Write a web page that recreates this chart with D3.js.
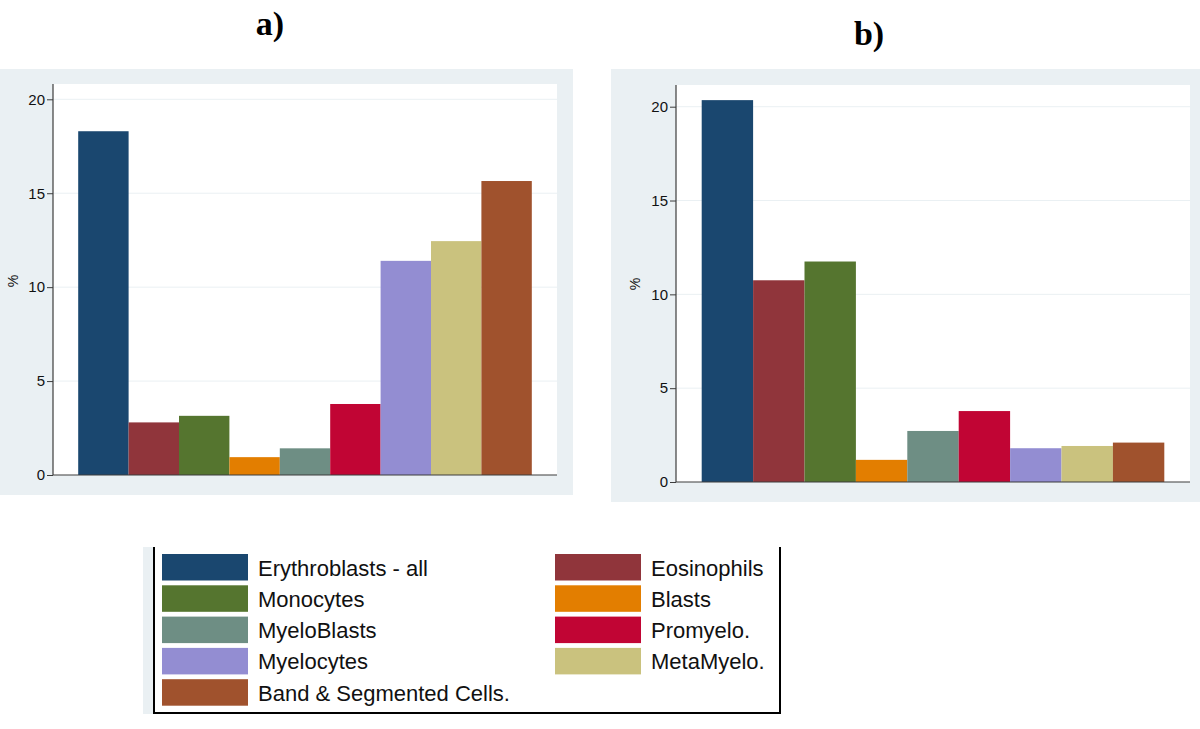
<!DOCTYPE html>
<html>
<head>
<meta charset="utf-8">
<script src="https://cdn.jsdelivr.net/npm/d3@7"></script>
<style>
  html, body { margin: 0; padding: 0; background: #ffffff; }
  svg { display: block; }
</style>
</head>
<body>
<svg id="chart" width="1200" height="729"></svg>
<script>
// ---- data ----
const categories = ["Erythroblasts - all", "Eosinophils", "Monocytes", "Blasts", "MyeloBlasts",
                    "Promyelo.", "Myelocytes", "MetaMyelo.", "Band & Segmented Cells."];
const valuesA = [18.3, 2.8, 3.15, 0.95, 1.42, 3.78, 11.4, 12.45, 15.65];
const valuesB = [20.35, 10.75, 11.75, 1.18, 2.72, 3.78, 1.8, 1.92, 2.1];
const colors = ["#1a476f", "#90353b", "#55752f", "#e37e00", "#6e8e84",
                "#c10534", "#938dd2", "#cac27e", "#a0522d"];
const yTicks = [0, 5, 10, 15, 20];
const panelTitles = ["a)", "b)"];
// legend order (two columns, row-major as in the picture)
const legendOrder = [0, 1, 2, 3, 4, 5, 6, 7, 8];

const svg = d3.select("#chart");

function drawPanel(cfg, values) {
  const g = svg.append("g");
  // outer background
  g.append("rect").attr("x", cfg.bg[0]).attr("y", cfg.bg[1])
    .attr("width", cfg.bg[2]).attr("height", cfg.bg[3]).attr("fill", "#eaf0f3");
  // plot region
  g.append("rect").attr("x", cfg.left).attr("y", cfg.top)
    .attr("width", cfg.right - cfg.left).attr("height", cfg.base - cfg.top).attr("fill", "#ffffff");

  const x = d3.scaleBand().domain(d3.range(categories.length))
    .range([cfg.left, cfg.right]).paddingInner(0).paddingOuter(0.5);
  const y = d3.scaleLinear().domain([0, 20]).range([cfg.base, cfg.y20]);

  // gridlines
  g.selectAll(".grid").data(yTicks.filter(t => t > 0)).enter().append("line")
    .attr("x1", cfg.left).attr("x2", cfg.right)
    .attr("y1", d => y(d)).attr("y2", d => y(d))
    .attr("stroke", "#eaf0f3").attr("stroke-width", 1);

  // bars
  g.selectAll(".bar").data(values).enter().append("rect")
    .attr("x", (d, i) => x(i)).attr("width", x.bandwidth())
    .attr("y", d => y(d)).attr("height", d => y(0) - y(d))
    .attr("fill", (d, i) => colors[i]);

  // y axis
  const axis = d3.axisLeft(y).tickValues(yTicks).tickSize(6).tickPadding(2);
  const ax = g.append("g").attr("transform", `translate(${cfg.left},0)`).call(axis);
  ax.select(".domain").remove();
  ax.append("line").attr("x1", 0).attr("x2", 0).attr("y1", cfg.top).attr("y2", cfg.base)
    .attr("stroke", "#3c3c3c").attr("stroke-width", 1.2);
  ax.selectAll(".tick line").attr("stroke", "#3c3c3c");
  ax.selectAll(".tick text").attr("fill", "#111")
    .style("font-family", "'Liberation Sans', Arial, sans-serif").style("font-size", "15px");

  // x baseline
  g.append("line").attr("x1", cfg.left).attr("x2", cfg.right)
    .attr("y1", cfg.base).attr("y2", cfg.base)
    .attr("stroke", "#3c3c3c").attr("stroke-width", 1.2);

  // y label
  g.append("text").attr("transform", `translate(${cfg.ylab[0]},${cfg.ylab[1]}) rotate(-90)`)
    .attr("text-anchor", "middle").attr("dominant-baseline", "central")
    .style("font-family", "'Liberation Sans', Arial, sans-serif").style("font-size", "14px")
    .attr("fill", "#111").text("%");

  // panel title
  svg.append("text").attr("x", cfg.title[0]).attr("y", cfg.title[1])
    .attr("text-anchor", "middle")
    .style("font-family", "'Liberation Serif', 'Times New Roman', serif")
    .style("font-weight", "bold").style("font-size", "34px")
    .attr("fill", "#000").text(cfg.titleText);
}

drawPanel({ bg: [0, 69, 573, 426], left: 53, right: 557, top: 84, base: 475, y20: 99.3,
            ylab: [13, 281], title: [270, 35], titleText: panelTitles[0] }, valuesA);
drawPanel({ bg: [611, 69, 589, 433], left: 676, right: 1190, top: 85, base: 482, y20: 106.7,
            ylab: [635, 284], title: [869, 45], titleText: panelTitles[1] }, valuesB);

// ---- legend ----
const lg = svg.append("g");
lg.append("rect").attr("x", 143).attr("y", 547).attr("width", 10).attr("height", 167).attr("fill", "#eaf0f3");
lg.append("rect").attr("x", 154).attr("y", 547).attr("width", 626).attr("height", 167).attr("fill", "#ffffff");
lg.append("path").attr("d", "M154,547 L154,713 L780,713 L780,547")
  .attr("fill", "none").attr("stroke", "#000").attr("stroke-width", 2);

const colX = [162, 555];
const rowY = d3.scaleLinear().domain([0, 1]).range([554, 585.3]);
const items = lg.selectAll(".item").data(legendOrder).enter().append("g")
  .attr("transform", (d, k) => `translate(${colX[k % 2]},${rowY(Math.floor(k / 2))})`);
items.append("rect").attr("x", 0).attr("y", 0).attr("width", 86).attr("height", 26.5)
  .attr("fill", d => colors[d]);
items.append("text").attr("x", 96).attr("y", 14).attr("dominant-baseline", "central")
  .style("font-family", "'Liberation Sans', Arial, sans-serif").style("font-size", "22px")
  .attr("fill", "#111").text(d => categories[d]);
</script>
</body>
</html>
